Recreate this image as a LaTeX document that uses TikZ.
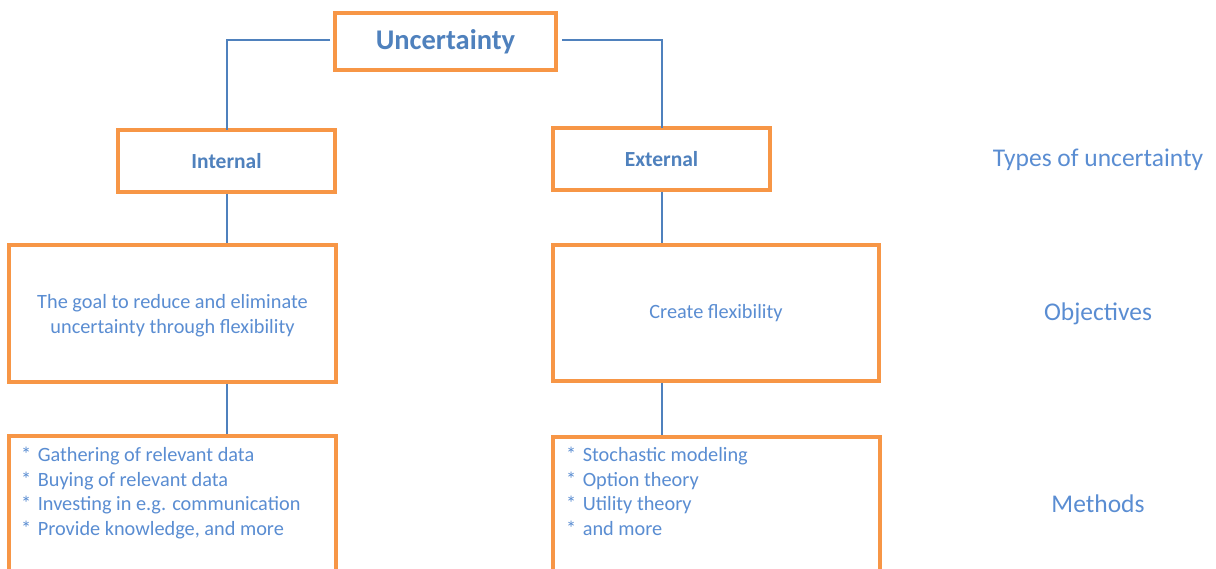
\documentclass[tikz,border=0pt]{standalone}
\usepackage{fontspec}
\setmainfont{Carlito}
\definecolor{boxorange}{HTML}{F79646}
\definecolor{linkblue}{HTML}{4F81BD}
\definecolor{textblue}{HTML}{4F81BD}
\definecolor{labelblue}{HTML}{5A8DD2}
\newcommand{\bulletstar}{*\hspace{6.5pt}}
\begin{document}
\begin{tikzpicture}[x=1pt,y=-1pt,
  box/.style={draw=boxorange,line width=3.2pt,fill=white,inner sep=0pt,
    text=textblue,align=center},
  link/.style={draw=linkblue,line width=2pt},
  bodytext/.style={text=labelblue,font=\fontsize{20.3}{25}\selectfont},
  rowlabel/.style={text=labelblue,font=\fontsize{25.5}{30}\selectfont}]
\useasboundingbox (0,0) rectangle (1216,569);
\clip (0,0) rectangle (1216,569);

% top level
\node[box,minimum width=221pt,minimum height=57pt,font=\bfseries\fontsize{28.5}{32}\selectfont]
  (unc) at (445.5,41.5) {Uncertainty};

% types of uncertainty
\node[box,minimum width=217pt,minimum height=62pt,font=\bfseries\fontsize{21.5}{24}\selectfont]
  (int) at (226.5,161) {Internal};
\node[box,minimum width=217pt,minimum height=62pt,font=\bfseries\fontsize{21.5}{24}\selectfont]
  (ext) at (661.5,159) {External};

% objectives
\node[box,minimum width=327pt,minimum height=137pt] (oint) at (172.5,313.5) {};
\node[box,minimum width=326pt,minimum height=136pt] (oext) at (716,313) {};
\node[bodytext,align=center] (toint) at (172.5,316)
  {The goal to reduce and eliminate\\uncertainty through flexibility};
\node[bodytext] (toext) at (716,313.5) {Create flexibility};

% methods (boxes run past the lower edge)
\node[box,minimum width=327pt,minimum height=160pt] (mint) at (172.5,516) {};
\node[box,minimum width=327pt,minimum height=160pt] (mext) at (716.5,517) {};
\node[bodytext,anchor=north west,inner sep=0pt,align=left,
  font=\fontsize{20.3}{24.5}\selectfont] (tint) at (21,447)
  {\bulletstar Gathering of relevant data\\\bulletstar Buying of relevant data\\\bulletstar Investing in e.g. communication\\\bulletstar Provide knowledge, and more};
\node[bodytext,anchor=north west,inner sep=0pt,align=left,
  font=\fontsize{20.3}{24.5}\selectfont] (text) at (566,447)
  {\bulletstar Stochastic modeling\\\bulletstar Option theory\\\bulletstar Utility theory\\\bulletstar and more};

% connectors
\coordinate (ul) at (330,40);
\coordinate (ur) at (562,40);
\draw[link] (ul) -| ([yshift=-1.6pt]int.north);
\draw[link] (ur) -| ([yshift=-1.6pt]ext.north);
\draw[link] (int.south) -- (oint.north -| int.south);
\draw[link] (ext.south) -- (oext.north -| ext.south);
\draw[link] (oint.south -| int.south) -- (mint.north -| int.south);
\draw[link] (oext.south -| ext.south) -- (mext.north -| ext.south);

% row labels
\node[rowlabel] (lt) at (1098,160) {Types of uncertainty};
\node[rowlabel] (lo) at (1098,314) {Objectives};
\node[rowlabel] (lm) at (1098,504) {Methods};
\end{tikzpicture}
\end{document}
